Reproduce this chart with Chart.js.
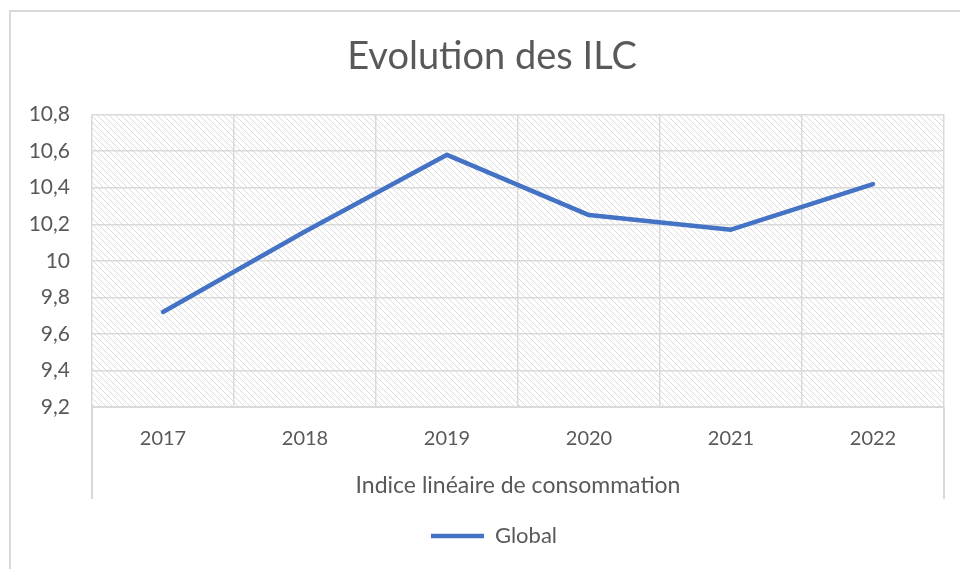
<!DOCTYPE html>
<html>
<head>
<meta charset="utf-8">
<title>Evolution des ILC</title>
<script src="https://cdn.jsdelivr.net/npm/chart.js@4"></script>
<style>
  html, body { margin: 0; padding: 0; background: #fff; }
  canvas { display: block; }
</style>
</head>
<body>
<canvas id="ilc-chart" width="960" height="569"></canvas>
<script>
// chart data
const years = ['2017', '2018', '2019', '2020', '2021', '2022'];
const globalValues = [9.72, 10.16, 10.58, 10.25, 10.17, 10.42];
const yMin = 9.2;
const yMax = 10.8;
const yStep = 0.2;

const textColor = '#595959';
const lineGray = '#d9d9d9';
const fontFamily = 'Lato, "Open Sans", sans-serif';

// formats 10.4 as "10,4" and 10 as "10"
function frNumber(v) {
  const r = Math.round(v * 10) / 10;
  return Number.isInteger(r) ? String(r) : r.toFixed(1).replace('.', ',');
}

// hatched plot area + outer frame, like the Excel chart
const chartDecor = {
  id: 'chartDecor',
  afterLayout(chart) {
    // the original frame is wider than the picture, so title/legend sit a bit right
    chart.titleBlock.left += 15;
    chart.titleBlock.right += 15;
    chart.legend.left += 17;
    chart.legend.right += 17;
  },
  beforeDraw(chart) {
    const { ctx, chartArea } = chart;
    const tile = document.createElement('canvas');
    tile.width = 6;
    tile.height = 6;
    const t = tile.getContext('2d');
    t.fillStyle = '#fff';
    t.fillRect(0, 0, 6, 6);
    t.strokeStyle = '#dcdcdc';
    t.lineWidth = 1;
    t.beginPath();
    t.moveTo(-1, -1); t.lineTo(7, 7);
    t.moveTo(-1, 5); t.lineTo(1, 7);
    t.moveTo(5, -1); t.lineTo(7, 1);
    t.stroke();

    ctx.save();
    ctx.fillStyle = ctx.createPattern(tile, 'repeat');
    ctx.fillRect(chartArea.left, chartArea.top,
      chartArea.right - chartArea.left, chartArea.bottom - chartArea.top);

    // outer chart frame
    ctx.strokeStyle = lineGray;
    ctx.lineWidth = 2;
    ctx.strokeRect(10, 11, 1200, 1200);

    // category axis side lines
    const xEnd = chartArea.bottom + 92;
    ctx.beginPath();
    ctx.moveTo(chartArea.left, chartArea.bottom);
    ctx.lineTo(chartArea.left, xEnd);
    ctx.moveTo(chartArea.right, chartArea.bottom);
    ctx.lineTo(chartArea.right, xEnd);
    ctx.stroke();
    ctx.restore();
  }
};

const data = {
  labels: years,
  datasets: [{
    label: 'Global',
    data: globalValues,
    borderColor: '#4472C4',
    backgroundColor: '#4472C4',
    borderWidth: 4.5,
    borderCapStyle: 'round',
    borderJoinStyle: 'round',
    pointRadius: 0,
    pointHoverRadius: 0,
    pointStyle: 'line',
    tension: 0,
    fill: false
  }]
};

const config = {
  type: 'line',
  data: data,
  plugins: [chartDecor],
  options: {
    responsive: false,
    animation: false,
    layout: { padding: { left: 10, right: 16, top: 10, bottom: 12 } },
    plugins: {
      title: {
        display: true,
        text: 'Evolution des ILC',
        color: textColor,
        font: { family: fontFamily, size: 38, weight: 'normal' },
        padding: { top: 24, bottom: 35 }
      },
      legend: {
        position: 'bottom',
        labels: {
          color: textColor,
          font: { family: fontFamily, size: 22 },
          usePointStyle: true,
          pointStyleWidth: 53,
          boxHeight: 22,
          padding: 10
        }
      },
      tooltip: { enabled: false }
    },
    scales: {
      x: {
        offset: true,
        grid: { color: lineGray, lineWidth: 1.5, offset: true, drawTicks: false },
        border: { color: lineGray, width: 2 },
        ticks: {
          color: textColor,
          font: { family: fontFamily, size: 20 },
          padding: 20,
          maxRotation: 0
        },
        title: {
          display: true,
          text: 'Indice linéaire de consommation',
          color: textColor,
          font: { family: fontFamily, size: 23 },
          padding: { top: 0, bottom: 16 }
        },
        afterFit(scale) { scale.height = 108; }
      },
      y: {
        min: yMin,
        max: yMax,
        grid: { color: lineGray, lineWidth: 1.5, drawTicks: false },
        border: { display: false },
        ticks: {
          stepSize: yStep,
          color: textColor,
          font: { family: fontFamily, size: 21 },
          padding: 22,
          callback: (value) => frNumber(value)
        },
        afterFit(scale) { scale.width = 82; }
      }
    }
  }
};

window.addEventListener('load', () => {
  const ctx = document.getElementById('ilc-chart').getContext('2d');
  new Chart(ctx, config);
});
</script>
</body>
</html>
